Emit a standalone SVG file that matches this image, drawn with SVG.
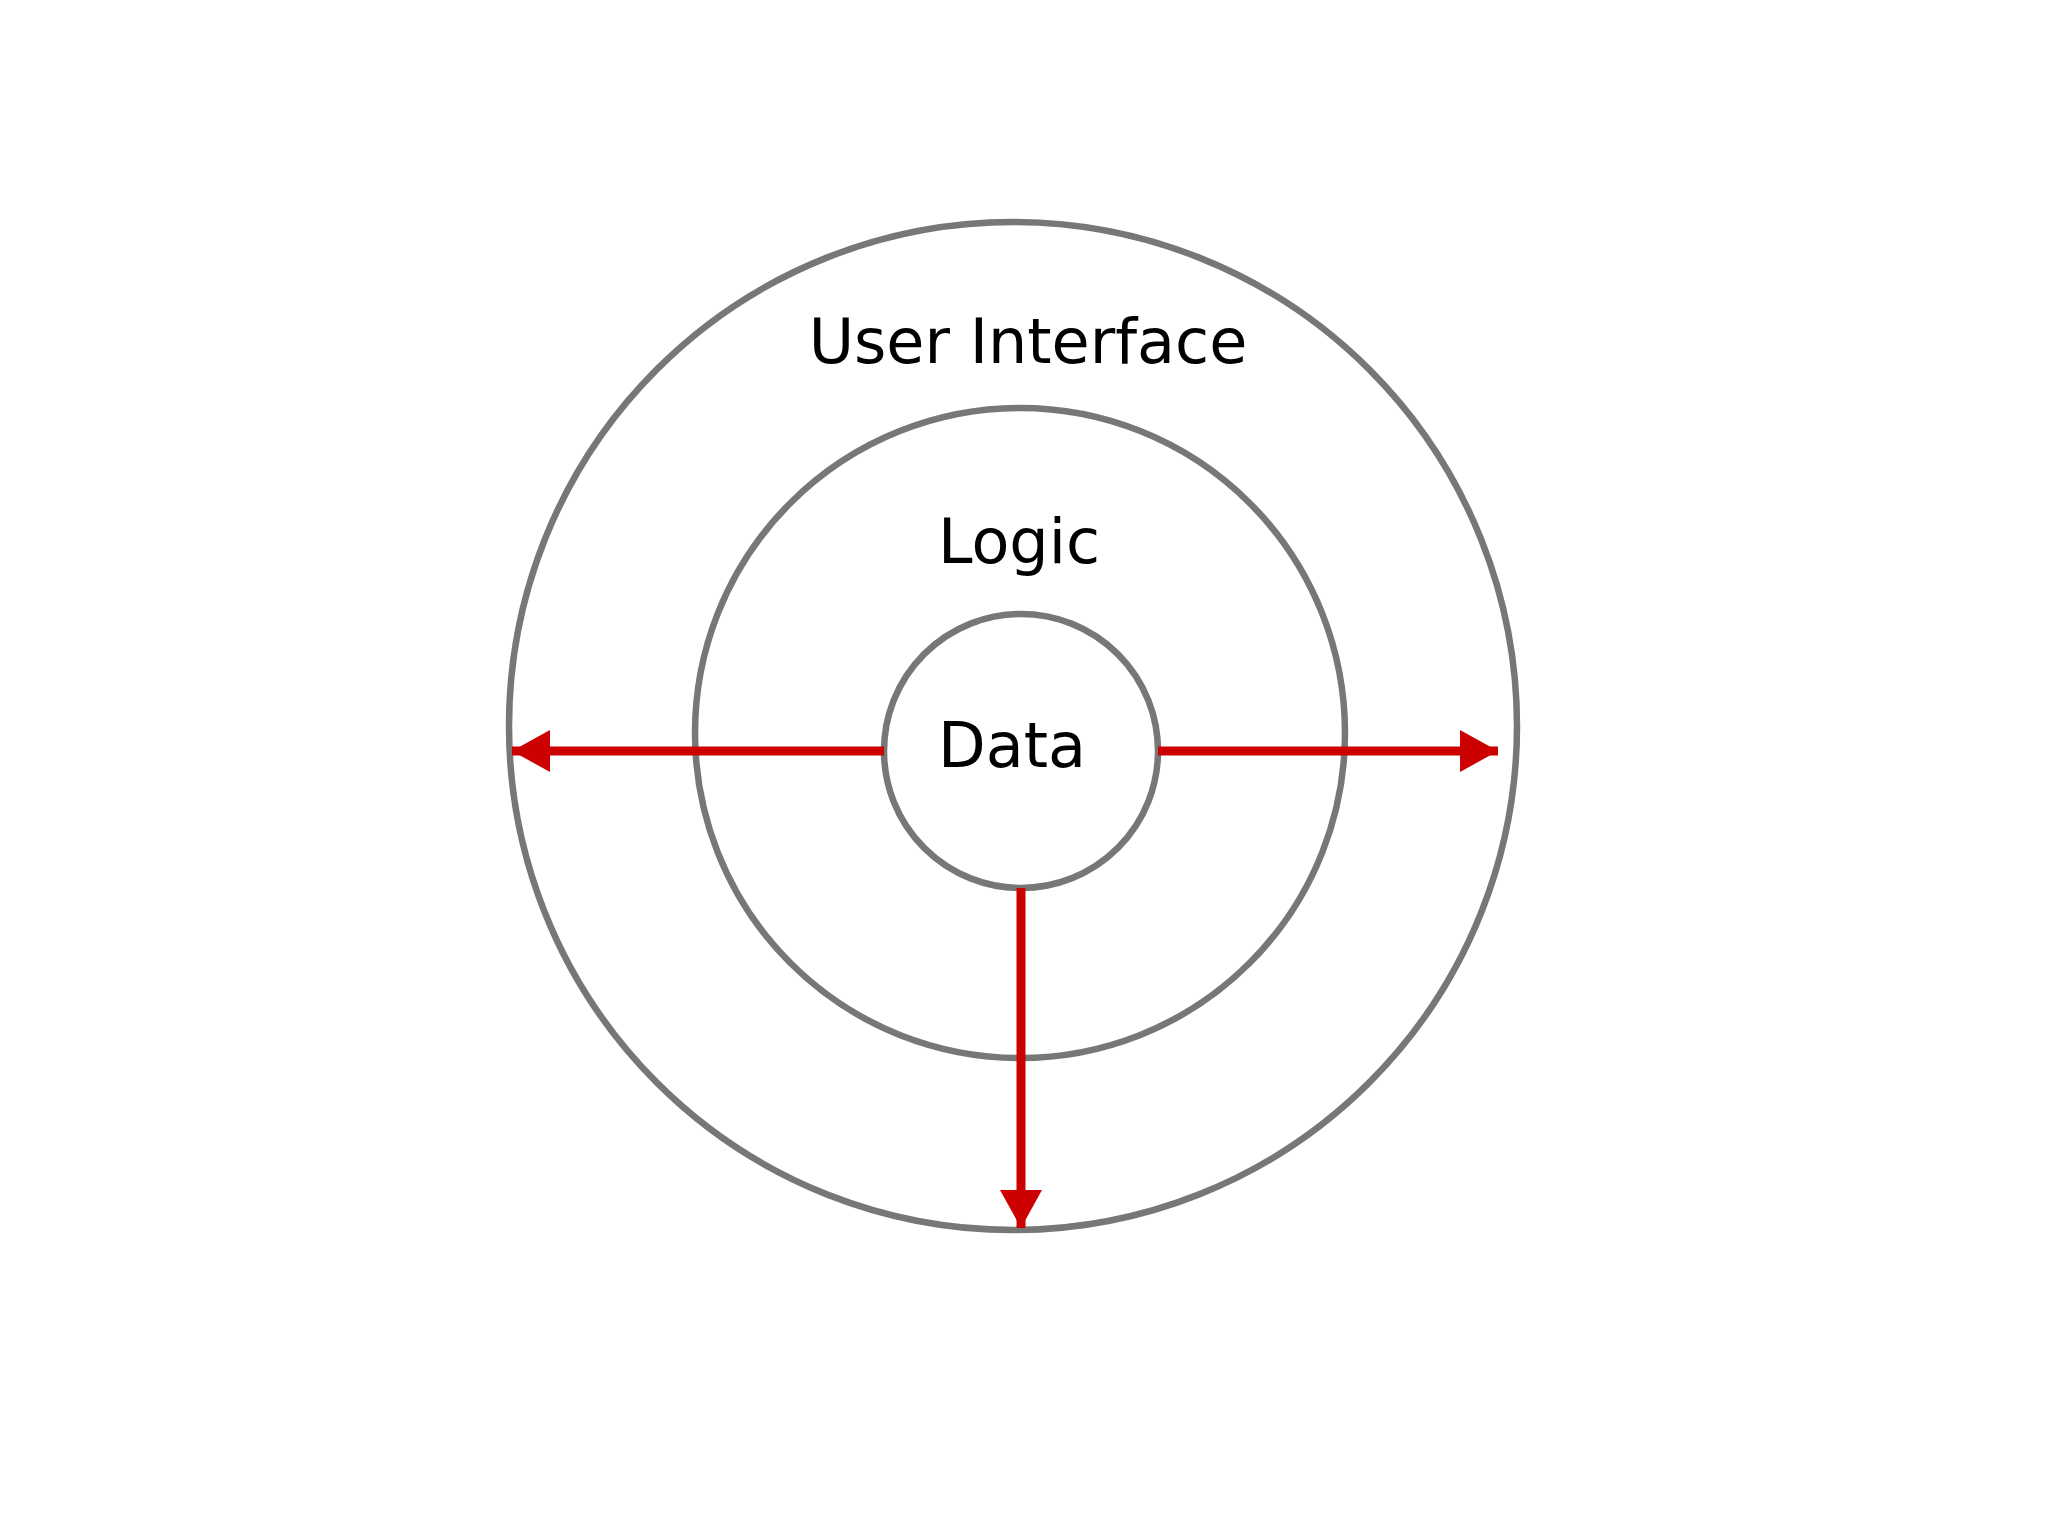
<svg xmlns="http://www.w3.org/2000/svg" width="2048" height="1536" viewBox="0 0 2048 1536">
<style>
.ring{fill:none;stroke:#777;stroke-width:6.5}
.lbl{font-family:"DejaVu Sans",sans-serif;font-size:62px;fill:#000;text-anchor:middle}
.arr{stroke:#cc0000;stroke-width:9;fill:none;marker-end:url(#ah)}
</style>
<defs>
<marker id="ah" markerUnits="userSpaceOnUse" markerWidth="40" markerHeight="42" refX="38" refY="21" orient="auto">
<path d="M0,0 L38,21 L0,42 Z" fill="#cc0000"/>
</marker>
</defs>
<rect width="2048" height="1536" fill="#fff"/>
<g id="ui"><circle class="ring" cx="1013" cy="726" r="504"/><text class="lbl" x="1028" y="363">User Interface</text></g>
<g id="logic"><circle class="ring" cx="1020" cy="733" r="325"/><text class="lbl" x="1019" y="563">Logic</text></g>
<g id="data"><circle class="ring" cx="1021" cy="751" r="137"/><text class="lbl" x="1012" y="767">Data</text></g>
<g id="connectors">
<path class="arr" d="M884,751 L512,751"/>
<path class="arr" d="M1158,751 L1498,751"/>
<path class="arr" d="M1021,888 L1021,1228"/>
</g>
</svg>
